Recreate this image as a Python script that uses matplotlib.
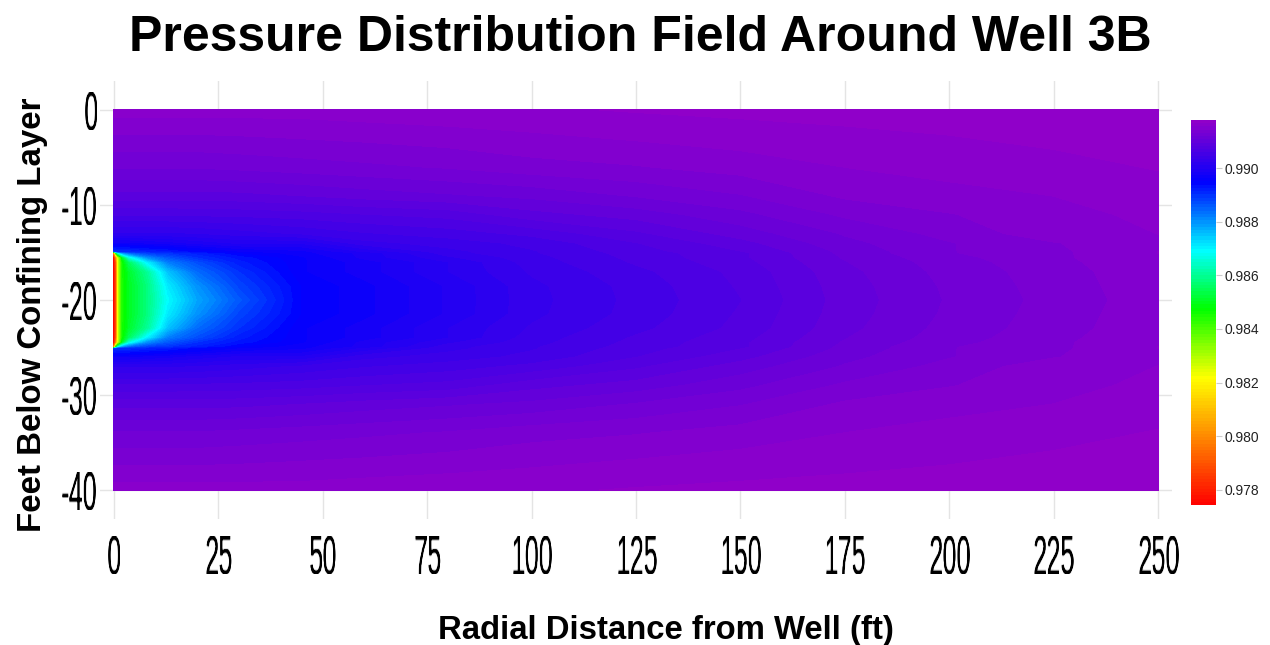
import numpy as np
import matplotlib
matplotlib.use("Agg")
import matplotlib.pyplot as plt
from matplotlib.colors import LinearSegmentedColormap

radius = [0, 0.5, 1, 2, 3.6, 8, 13, 20, 30, 45, 60, 80, 100, 125, 150, 175, 200, 225, 250]
depth_upper = [0, -3, -6, -9, -11, -13, -14, -14.9, -15, -15.5, -16, -17, -18.5, -20]
depth_lower = [-21.5, -23, -24, -24.5, -25, -25.1, -26, -27, -29, -31, -34, -37, -40]

# pressure, one row per depth from the top down to the screen centre
p_00 = [.9916, .9916, .9916, .9916, .9916, .9916, .9916, .9916, .9916, .9916, .99162, .99164, .99165, .99168, .9917, .99172, .99174, .99175, .99177]
p_03 = [.9914, .9914, .9914, .9914, .9914, .9914, .9914, .9914, .99141, .99143, .99145, .99148, .99152, .99156, .9916, .99163, .99166, .9917, .99173]
p_06 = [.9912, .9912, .9912, .9912, .9912, .9912, .9912, .9912, .99122, .99125, .99128, .99132, .99138, .99142, .99148, .99155, .99158, .99162, .99168]
p_09 = [.9909, .9909, .9909, .9909, .9909, .9909, .9909, .9909, .99091, .99095, .9910, .99105, .9911, .9912, .9913, .99145, .99152, .99155, .9916]
p_11 = [.9906, .9906, .9906, .9906, .9906, .9906, .9906, .99061, .99062, .99065, .9907, .99075, .9909, .9910, .99115, .99133, .99142, .99152, .99157]
p_13 = [.9902, .9902, .9902, .9902, .9902, .9902, .9902, .99022, .99028, .99036, .99045, .99052, .99062, .9908, .9910, .9912, .99135, .9915, .99155]
p_14 = [.9897, .9897, .9897, .9897, .9897, .98975, .9898, .9899, .9900, .9900, .9903, .9904, .9905, .9907, .9909, .99115, .9913, .99142, .99153]
p_149 = [.9889, .9889, .9890, .9890, .9890, .9891, .9892, .9894, .9896, .9897, .9900, .9903, .99045, .99065, .99082, .9911, .9913, .9914, .99155]
p_15 = [.9800, .9850, .9870, .9880, .9885, .9889, .9890, .9892, .9895, .9897, .9899, .9903, .99045, .99064, .9908, .9911, .9913, .9914, .99155]
p_155 = [.9776, .9800, .9825, .9850, .9866, .9880, .9886, .9890, .9893, .9896, .9899, .9902, .99042, .99062, .9908, .99108, .99127, .9914, .99154]
p_16 = [.9775, .9790, .9825, .9846, .9855, .9870, .9882, .9887, .9892, .9896, .9898, .9901, .9904, .9906, .99078, .99106, .99125, .99139, .99153]
p_17 = [.9775, .9788, .9825, .9845, .9851, .9860, .9875, .9884, .9890, .9896, .9898, .9901, .99036, .99055, .99074, .99103, .99123, .99137, .99152]
p_185 = [.9775, .9788, .9825, .9845, .9850, .9858, .9871, .9880, .9888, .9895, .9897, .9900, .99031, .99051, .99072, .99101, .99121, .99136, .99151]
p_20 = [.9775, .9788, .9825, .9845, .9850, .9858, .9869, .9878, .9886, .9895, .9897, .9900, .9903, .9905, .9907, .9910, .9912, .99135, .9915]

upper = [p_00, p_03, p_06, p_09, p_11, p_13, p_14, p_149, p_15, p_155, p_16, p_17, p_185, p_20]
depth = depth_upper + depth_lower
# screen is centred at -20 so the lower half repeats the upper rows
pressure = np.array(upper + upper[-2::-1])

x_ticks = [0, 25, 50, 75, 100, 125, 150, 175, 200, 225, 250]
y_ticks = [0, -10, -20, -30, -40]
cbar_ticks = [0.978, 0.980, 0.982, 0.984, 0.986, 0.988, 0.990]

W, H = 1270, 645
rainbow = LinearSegmentedColormap.from_list("rb", [
    (0.0, "#ff0000"), (0.33, "#ffff00"), (0.51, "#00ff00"),
    (0.66, "#00ffff"), (0.84, "#0000ff"), (1.0, "#9400c8")], N=512)


def squeeze(fx, fy, anchor):
    # real text, only reshaped when drawn (tick labels in the original are tall and condensed)
    def flt(img, dpi):
        h, w = img.shape[:2]
        nw = max(1, int(round(w * fx)))
        nh = max(1, int(round(h * fy)))
        xs = np.clip((np.arange(nw) + 0.5) / fx - 0.5, 0, w - 1)
        ys = np.clip((np.arange(nh) + 0.5) / fy - 0.5, 0, h - 1)
        i0 = np.floor(xs).astype(int)
        i1 = np.minimum(i0 + 1, w - 1)
        t = (xs - i0)[None, :, None]
        out = img[:, i0] * (1 - t) + img[:, i1] * t
        j0 = np.floor(ys).astype(int)
        j1 = np.minimum(j0 + 1, h - 1)
        u = (ys - j0)[:, None, None]
        out = out[j0] * (1 - u) + out[j1] * u
        out[..., 3] = np.clip(out[..., 3] * 1.35, 0, 1)
        return out, int(round((w - nw) * anchor)), int(round((h - nh) * 0.5))
    return flt


plt.rcParams["font.family"] = ["Liberation Sans", "DejaVu Sans"]
plt.rcParams["axes.unicode_minus"] = False
fig = plt.figure(figsize=(W / 100, H / 100), dpi=100)
ax = fig.add_axes([100 / W, 1 - 519 / H, 1072 / W, 438 / H])

levels = np.linspace(0.97744, 0.99179, 120)
cf = ax.contourf(radius, depth, pressure, levels=levels, cmap=rainbow, extend="neither", zorder=2)
ax.set_xlim(-3.35, 253.35)
ax.set_ylim(-43.05, 3.05)
ax.set_xticks(x_ticks)
ax.set_yticks(y_ticks)
ax.grid(True, color="#e4e4e4", lw=1, zorder=0)
ax.set_axisbelow(True)
for s in ax.spines.values():
    s.set_visible(False)
ax.tick_params(axis="x", length=0, pad=16)
ax.tick_params(axis="y", length=0, pad=1.5)

for t in ax.get_xticklabels():
    t.set_fontsize(25)
    t.set_agg_filter(squeeze(0.72, 1.6, 0.5))
for t in ax.get_yticklabels():
    t.set_fontsize(25)
    t.set_agg_filter(squeeze(0.72, 1.6, 1.0))

fig.text(640 / W, 1 - 38 / H, "Pressure Distribution Field Around Well 3B",
         ha="center", va="center", fontsize=36, fontweight="bold", color="black")
fig.text(666 / W, 1 - 630 / H, "Radial Distance from Well (ft)",
         ha="center", va="center", fontsize=23.7, fontweight="bold", color="black")
fig.text(33 / W, 1 - 315 / H, "Feet Below Confining Layer", rotation=90,
         ha="center", va="center", fontsize=23.8, fontweight="bold", color="black")

cax = fig.add_axes([1191 / W, 1 - 505 / H, 25 / W, 385 / H])
cb = fig.colorbar(cf, cax=cax)
cb.set_ticks(cbar_ticks)
cb.set_ticklabels(["%.3f" % v for v in cbar_ticks])
cb.outline.set_visible(False)
cb.ax.tick_params(length=4.3, width=0.8, color="#cccccc", labelsize=10, pad=2, labelcolor="#222222")

fig.savefig("out.png", dpi=100)
